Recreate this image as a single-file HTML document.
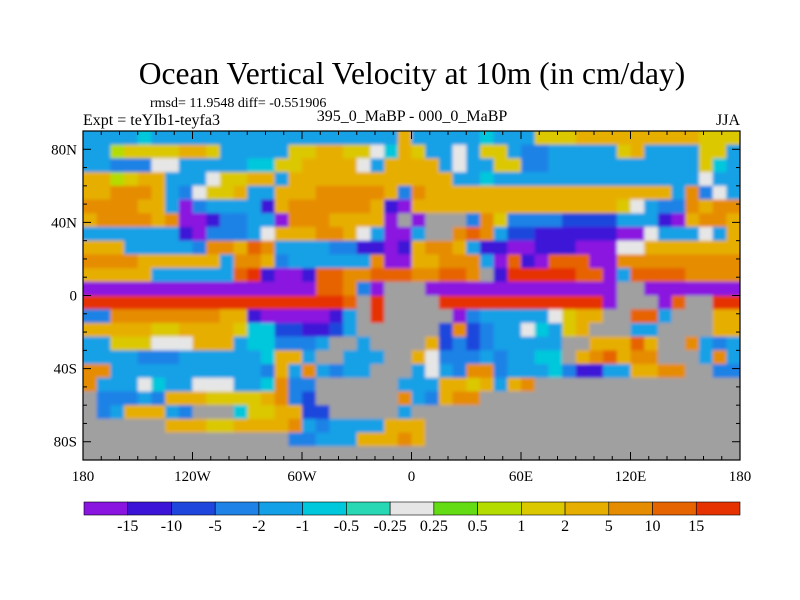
<!DOCTYPE html>
<html><head><meta charset="utf-8"><style>
body{margin:0;background:#fff;}
svg{display:block;font-family:"Liberation Serif",serif;}
</style></head><body>
<svg id="chart" width="800" height="600" viewBox="0 0 800 600" xmlns="http://www.w3.org/2000/svg">
<defs>
<clipPath id="plotclip"><rect x="83" y="131" width="657" height="329"/></clipPath>
<filter id="soft" x="0" y="0" width="1" height="1"><feGaussianBlur stdDeviation="1.6"/></filter>
</defs>
<rect width="800" height="600" fill="#fff"/>
<text x="412" y="84" font-size="31.5" text-anchor="middle">Ocean Vertical Velocity at 10m (in cm/day)</text>
<text x="150" y="107" font-size="14">rmsd= 11.9548 diff= -0.551906</text>
<text x="83" y="125" font-size="16">Expt = teYIb1-teyfa3</text>
<text x="412" y="121" font-size="16" text-anchor="middle">395_0_MaBP - 000_0_MaBP</text>
<text x="740" y="125" font-size="16" text-anchor="end">JJA</text>
<g clip-path="url(#plotclip)"><g id="field" filter="url(#soft)"></g></g>
<g id="axes"></g>
<g id="cbar"></g>
</svg>
<script>
const rows = [
"eeeefeeeeeeeeeeeeeeeeeeleeeeefeeekkklllllllllkkk",
"eejkkkkllkeeeeekkllkkhflkeehekkeddeeeeekleeeekke",
"eedddhheeeeeffkkllllhelllleheekkddeeeeeeeeeeekfe",
"lljklleeehkkllelllllllllllleefeeeeeeeeeeeeeeehee",
"llmmmledhkkleelllmmmmmldmllllllllllllllllllemdhe",
"mmmmlleadeeeeblmmmmmmlballlllllllllllllkheddmlmm",
"lmmmmlmaabddeeammmlllla#a###dmkddddcccceeebalmml",
"eeeeeeebadddehlllmmlheaae##mnmeccbbbbbbaaheeehel",
"llleeeeedmmlnmeeeeddbbablmmlebbaabbbaaahhlllllll",
"mmmmllllllemmldeeeeeemaallmmmeanbannnaammmmmmmmm",
"llllleeeeeenobaabnnmmnnnmmnnm#booooonnaennnnmmmm",
"aaaaaaaaaaaaaaaaannmda###aaaaaaaaaaaaaa##aaaaaaa",
"ooooooooooooooooooon#o####ooooooooooooa###an##oo",
"ddmmmmmmmmllbaaaaabe#o#####adeeeeehkll##nne###ll",
"lllllkkllllkffccbbce######cmcdeehfekl###ee####ll",
"eekkkhhhllleffddde##e####lcdcdeeeee##lllnl##mede",
"eeeedddeeeeeeflle##eee##lhdddedeeff#lmnlmm###eme",
"mmeeeeeeeeeeedlemedee###ehedmmdeeefdbbeellmm##dd",
"meeehfeehhheefmdd######eeellklelm###############",
"#dddedlllkkkklmdc######medlmm###################",
"#dellled###fkkllcc#####e########################",
"######lllkkllllmedeeeelll#######################",
"###############ddeeelllml#######################",
"################################################"
];
const levelLabels = ["-15","-10","-5","-2","-1","-0.5","-0.25","0.25","0.5","1","2","5","10","15"];
const levelColors = ["#8a14e0","#3c14d8","#1e46dc","#1e82e6","#14a0e6","#00c8dc","#28d8b4","#e6e6e6","#64dc14","#b4dc00","#dcc800","#e6af00","#e68c00","#e66400","#e63200"];
const lonTicks = [-180,-120,-60,0,60,120,180];
const lonTickLabels = ["180","120W","60W","0","60E","120E","180"];
const latTicks = [80,40,0,-40,-80];
const latTickLabels = ["80N","40N","0","40S","80S"];

const NS="http://www.w3.org/2000/svg";
const X0=83,X1=740,Y0=131,Y1=460;
const xs = lon => X0+(lon+180)/360*(X1-X0);
const ys = lat => Y0+(90-lat)/180*(Y1-Y0);
const keys="abcdefghijklmno";
function mk(tag,attrs,parent){const e=document.createElementNS(NS,tag);for(const k in attrs)e.setAttribute(k,attrs[k]);parent.appendChild(e);return e;}
const field=document.getElementById('field');
const nR=rows.length,nC=rows[0].length;
rows.forEach((row,r)=>{
  for(let c=0;c<nC;c++){
    const ch=row[c];
    const lon0=-180+c*360/nC, lat0=90-r*180/nR;
    let x=xs(lon0), y=ys(lat0);
    let w=xs(lon0+360/nC)-x+0.5, h=ys(lat0-180/nR)-y+0.5;
    if(c===0){x-=4;w+=4;} if(c===nC-1){w+=4;}
    if(r===0){y-=4;h+=4;} if(r===nR-1){h+=4;}
    const col= ch==='#' ? '#a0a0a0' : levelColors[keys.indexOf(ch)];
    const el=mk('rect',{x:x,y:y,width:w,height:h,fill:col},field);
    
    
  }
});
const axes=document.getElementById('axes');
const frame=mk('rect',{x:X0,y:Y0,width:X1-X0,height:Y1-Y0,fill:'none',stroke:'#000','stroke-width':1.2},axes);


for(let lon=-180;lon<=180;lon+=10){
  const major=lonTicks.includes(lon);const L=major?8:4;const x=xs(lon);
  mk('line',{x1:x,x2:x,y1:Y1,y2:Y1-L,stroke:'#000'},axes);
  mk('line',{x1:x,x2:x,y1:Y0,y2:Y0+L,stroke:'#000'},axes);
}
for(let lat=-90;lat<=90;lat+=10){
  const major=latTicks.includes(lat);const L=major?8:4;const y=ys(lat);
  mk('line',{x1:X0,x2:X0+L,y1:y,y2:y,stroke:'#000'},axes);
  mk('line',{x1:X1,x2:X1-L,y1:y,y2:y,stroke:'#000'},axes);
}
lonTicks.forEach((lon,i)=>{
  const t=mk('text',{x:xs(lon),y:481,'font-size':15,'text-anchor':'middle'},axes);
  t.textContent=lonTickLabels[i];
  
  
});
latTicks.forEach((lat,i)=>{
  const t=mk('text',{x:X0-6,y:ys(lat)+5,'font-size':15,'text-anchor':'end'},axes);
  t.textContent=latTickLabels[i];
  
  
});
const cbar=document.getElementById('cbar');
const CB0=84,CB1=740,CBY=502,CBH=13,bw=(CB1-CB0)/levelColors.length;
levelColors.forEach((c,i)=>{
  const r=mk('rect',{x:CB0+i*bw,y:CBY,width:bw,height:CBH,fill:c,stroke:'#000','stroke-width':0.6},cbar);
  
  
});
levelLabels.forEach((l,i)=>{
  const t=mk('text',{x:CB0+(i+1)*bw,y:531,'font-size':16,'text-anchor':'middle'},cbar);
  t.textContent=l;
  
  
});
</script>
</body></html>
